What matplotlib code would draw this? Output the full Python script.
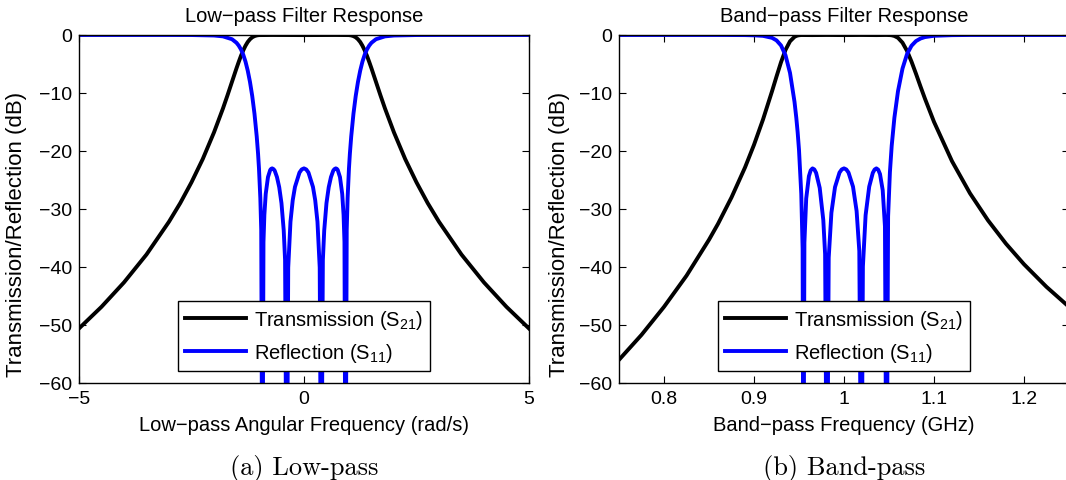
import matplotlib
matplotlib.use("Agg")
import matplotlib.pyplot as plt

plt.rcParams['font.family'] = ['Liberation Sans', 'DejaVu Sans']
plt.rcParams['mathtext.default'] = 'regular'

# Low-pass prototype
lp_w21 = [-5, -4.5, -4, -3.5, -3, -2.75, -2.5, -2.25, -2, -1.8, -1.7, -1.6, -1.5, -1.45, -1.4,
          -1.35, -1.3, -1.25, -1.2, -1.15, -1.1, -1.05, -1, -0.7, 0, 0.7, 1, 1.05, 1.1, 1.15, 1.2,
          1.25, 1.3, 1.35, 1.4, 1.45, 1.5, 1.6, 1.7, 1.8, 2, 2.25, 2.5, 2.75, 3, 3.5, 4, 4.5, 5]
lp_s21 = [-50.6, -46.87, -42.66, -37.85, -32.2, -28.99, -25.4, -21.4, -16.8, -12.66, -10.41, -8.08,
          -5.75, -4.64, -3.59, -2.66, -1.86, -1.21, -0.735, -0.40, -0.195, -0.078, -0.02, 0, -0.02,
          0, -0.02, -0.078, -0.195, -0.40, -0.735, -1.21, -1.86, -2.66, -3.59, -4.64, -5.75, -8.08,
          -10.41, -12.66, -16.8, -21.4, -25.4, -28.99, -32.2, -37.85, -42.66, -46.87, -50.6]

lp_w11 = [-5, -3, -2.5, -2, -1.8, -1.6, -1.5, -1.45, -1.4, -1.35, -1.3, -1.25, -1.2, -1.15, -1.1,
          -1.05, -1.02, -1, -0.97, -0.95, -0.924, -0.9, -0.88, -0.85, -0.8, -0.75, -0.73, -0.707,
          -0.675, -0.65, -0.6, -0.55, -0.5, -0.45, -0.42, -0.383, -0.35, -0.3, -0.25, -0.2, -0.1,
          -0.05, 0, 0.05, 0.1, 0.2, 0.25, 0.3, 0.35, 0.383, 0.42, 0.45, 0.5, 0.55, 0.6, 0.65, 0.675,
          0.707, 0.73, 0.75, 0.8, 0.85, 0.88, 0.9, 0.924, 0.95, 0.97, 1, 1.02, 1.05, 1.1, 1.15, 1.2,
          1.25, 1.3, 1.35, 1.4, 1.45, 1.5, 1.6, 1.8, 2, 2.5, 3, 5]
lp_s11 = [0, 0, -0.01, -0.09, -0.24, -0.73, -1.34, -1.83, -2.49, -3.39, -4.58, -6.14, -8.09, -10.52,
          -13.57, -17.5, -20.5, -23, -28.1, -33.6, -90, -35.7, -31.0, -27.4, -24.5, -23.27, -23.08,
          -23, -23.14, -23.4, -24.5, -26.25, -29.0, -33.7, -38.8, -90, -40.1, -32.2, -28.5, -26.2,
          -23.72, -23.18, -23, -23.18, -23.72, -26.2, -28.5, -32.2, -40.1, -90, -38.8, -33.7, -29.0,
          -26.25, -24.5, -23.4, -23.14, -23, -23.08, -23.27, -24.5, -27.4, -31.0, -35.7, -90, -33.6,
          -28.1, -23, -20.5, -17.5, -13.57, -10.52, -8.09, -6.14, -4.58, -3.39, -2.49, -1.83, -1.34,
          -0.73, -0.24, -0.09, -0.01, 0, 0]

# Band-pass response
bp_f21 = [0.75, 0.775, 0.8, 0.825, 0.85, 0.86, 0.875, 0.89, 0.9, 0.91, 0.92, 0.925, 0.93, 0.935,
          0.94, 0.945, 0.947, 0.9485, 0.95, 0.9525, 0.965, 0.981, 1.0, 1.019, 1.036, 1.047, 1.051,
          1.053, 1.056, 1.06, 1.065, 1.07, 1.075, 1.08, 1.085, 1.09, 1.1, 1.12, 1.14, 1.16, 1.18,
          1.2, 1.225, 1.25]
bp_s21 = [-56.0, -51.7, -46.87, -41.5, -35.3, -32.56, -28.0, -22.84, -18.93, -14.57, -9.71, -7.16,
          -4.70, -2.57, -1.09, -0.32, -0.165, -0.09, -0.045, -0.008, -0.02, 0, -0.02, 0, -0.02, 0,
          -0.02, -0.054, -0.17, -0.49, -1.33, -2.73, -4.59, -6.69, -8.88, -11.0, -14.98, -21.76,
          -27.3, -31.96, -35.99, -39.53, -43.43, -46.87]

bp_f11 = [0.75, 0.86, 0.89, 0.9, 0.91, 0.92, 0.925, 0.93, 0.935, 0.94, 0.945, 0.947, 0.9485, 0.95,
          0.9525, 0.954, 0.95487, 0.956, 0.958, 0.961, 0.963, 0.965, 0.967, 0.969, 0.973, 0.977,
          0.979, 0.98105, 0.983, 0.986, 0.99, 0.995, 0.9975, 1.0, 1.0025, 1.005, 1.01, 1.014, 1.017,
          1.01932, 1.021, 1.024, 1.028, 1.032, 1.034, 1.036, 1.038, 1.04, 1.043, 1.0455, 1.04726,
          1.049, 1.051, 1.053, 1.056, 1.06, 1.065, 1.07, 1.075, 1.08, 1.085, 1.09, 1.1, 1.12, 1.14,
          1.25]
bp_s11 = [0, 0, -0.02, -0.06, -0.15, -0.49, -0.93, -1.80, -3.50, -6.54, -11.53, -14.3, -16.8,
          -19.84, -27.35, -36.85, -90, -35.8, -28.2, -24.34, -23.34, -23.0, -23.18, -23.77, -26.36,
          -31.92, -37.8, -90, -38.4, -30.65, -26.23, -23.72, -23.18, -23.0, -23.18, -23.72, -26.15,
          -30.35, -37.25, -90, -39.9, -31.07, -26.15, -23.77, -23.2, -23.0, -23.23, -23.98, -26.75,
          -33.0, -90, -31.3, -23.68, -19.1, -14.25, -9.68, -5.79, -3.31, -1.86, -1.05, -0.61, -0.36,
          -0.14, -0.03, 0, 0]

fig = plt.figure(figsize=(10.66, 4.81), dpi=100)

panels = [
    ([0.0741, 0.2017, 0.4221, 0.7235], -0.115, lp_w21, lp_s21, lp_w11, lp_s11, (-5, 5), [-5, 0, 5],
     ['\u22125', '0', '5'], 'Low\u2212pass Filter Response',
     'Low\u2212pass Angular Frequency (rad/s)', '(a) Low-pass'),
    ([0.5807, 0.2017, 0.4221, 0.7235], -0.11, bp_f21, bp_s21, bp_f11, bp_s11, (0.75, 1.25),
     [0.8, 0.9, 1.0, 1.1, 1.2], ['0.8', '0.9', '1', '1.1', '1.2'], 'Band\u2212pass Filter Response',
     'Band\u2212pass Frequency (GHz)', '(b) Band-pass'),
]

for rect, ylx, x21, y21, x11, y11, xlim, xt, xtl, title, xlabel, caption in panels:
    ax = fig.add_axes(rect)
    ax.plot(x21, y21, color='black', lw=2.8, label='Transmission (S$_{21}$)')
    ax.plot(x11, y11, color='#0000ff', lw=2.8, label='Reflection (S$_{11}$)')
    ax.set_xlim(*xlim)
    ax.set_ylim(-60, 0)
    ax.set_xticks(xt)
    ax.set_xticklabels(xtl)
    ax.set_yticks(range(-60, 1, 10))
    ax.tick_params(direction='in', top=True, right=True, length=5, width=0.8, labelsize=14, pad=5)
    for s in ax.spines.values():
        s.set_linewidth(1.0)
    ax.set_title(title, fontsize=14.5, pad=10)
    ax.set_xlabel(xlabel, fontsize=14.5, labelpad=6)
    ax.set_ylabel('Transmission/Reflection (dB)', fontsize=16)
    ax.yaxis.set_label_coords(ylx, 0.43)
    leg = ax.legend(loc='lower center', bbox_to_anchor=(0.5, 0.034), borderaxespad=0,
                    fontsize=14.5, handlelength=3.0, handletextpad=0.4, borderpad=0.35,
                    labelspacing=0.5, fancybox=False, framealpha=1, edgecolor='black')
    leg.get_frame().set_linewidth(1.0)
    pos = ax.get_position()
    fig.text(pos.x0 + pos.width / 2, 0.027, caption, ha='center', va='center',
             fontsize=19, family='cmr10')

fig.savefig('out.png', dpi=100)
